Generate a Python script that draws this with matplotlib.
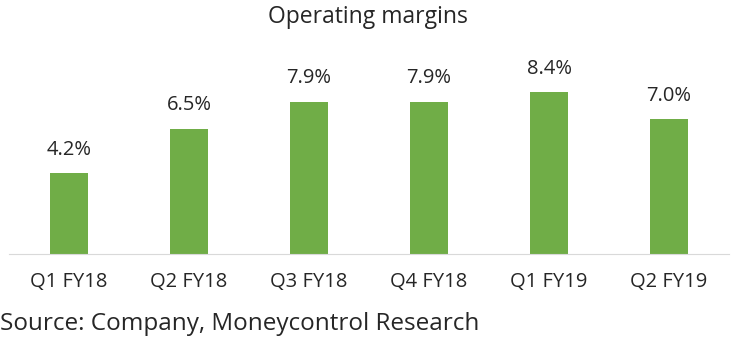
import matplotlib
matplotlib.use("Agg")
import matplotlib.pyplot as plt

quarters = ["Q1 FY18", "Q2 FY18", "Q3 FY18", "Q4 FY18", "Q1 FY19", "Q2 FY19"]
margins = [4.2, 6.5, 7.9, 7.9, 8.4, 7.0]

plt.rcParams["font.family"] = ["Open Sans", "DejaVu Sans"]

fig = plt.figure(figsize=(7.35, 3.43), dpi=100)
ax = fig.add_axes([9 / 735, 89 / 343, 720 / 735, 214 / 343])
x = range(len(quarters))
ax.bar(x, margins, width=0.31, color="#70AD47")
for xi, v in zip(x, margins):
    ax.text(xi, v + 0.7, f"{v:.1f}%", ha="center", va="bottom", fontsize=14.5, color="#262626")

ax.set_xlim(-0.5, len(quarters) - 0.5)
ax.set_ylim(0, 11.1)
ax.set_xticks(list(x), quarters, fontsize=14.5, color="#262626")
ax.tick_params(axis="x", length=0, pad=13)
ax.set_yticks([])
for s in ["top", "right", "left"]:
    ax.spines[s].set_visible(False)
ax.spines["bottom"].set_color("#d9d9d9")

fig.text(0.5, 1 - 17 / 343, "Operating margins", ha="center", va="center", fontsize=16.5, color="#262626")
fig.text(0.0, 1 - 324 / 343, "Source: Company, Moneycontrol Research", ha="left", va="center", fontsize=17.5, color="#262626")

fig.savefig("out.png", dpi=100)
